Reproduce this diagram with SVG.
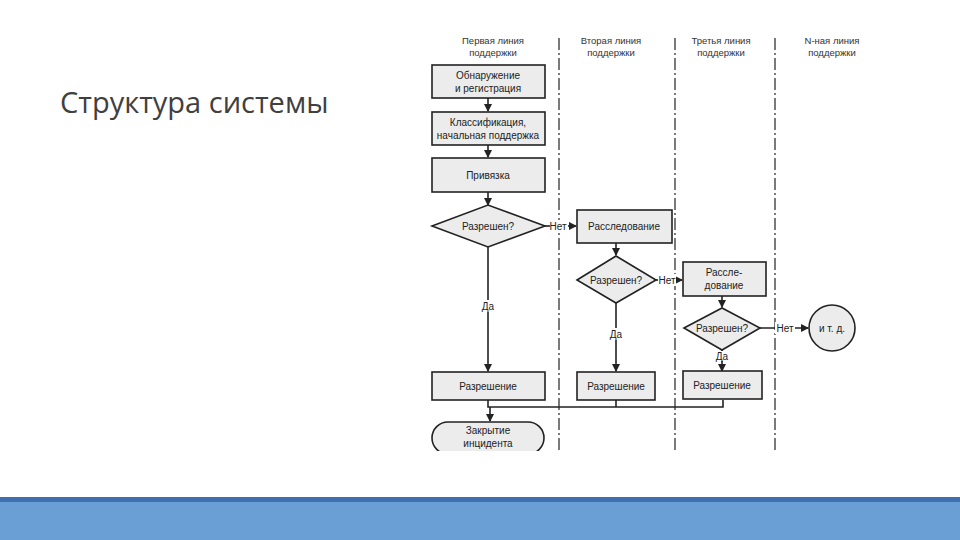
<svg xmlns="http://www.w3.org/2000/svg" width="960" height="540" viewBox="0 0 960 540">
<defs>
<marker id="ar" markerWidth="8" markerHeight="8" refX="7" refY="4" orient="auto" markerUnits="userSpaceOnUse"><path d="M0,0 L8,4 L0,8 Z" fill="#222"/></marker>
<style>
.b{fill:#ececec;stroke:#222;stroke-width:1.6}
.t{font-family:"Liberation Sans",Arial,sans-serif;font-size:10px;fill:#222;text-anchor:middle}
.h{font-family:"Liberation Sans",Arial,sans-serif;font-size:9.5px;fill:#333;text-anchor:middle}
.c{stroke:#222;stroke-width:1.6;fill:none}
.d{stroke:#333;stroke-width:1.3;stroke-dasharray:12,3,2,3}
</style>
</defs>
<rect width="960" height="540" fill="#fff"/>
<text x="60" y="113" font-family="Open Sans,Liberation Sans,sans-serif" font-size="29" fill="#404040">Структура системы</text>
<rect x="0" y="497" width="960" height="43" fill="#6a9fd6"/>
<rect x="0" y="497" width="960" height="5" fill="#3f6fae"/>
<g id="lanes">
<line class="d" x1="559" y1="38" x2="559" y2="450"/>
<line class="d" x1="675" y1="38" x2="675" y2="450"/>
<line class="d" x1="775" y1="38" x2="775" y2="450"/>
<text class="h" x="493" y="44">Первая линия</text><text class="h" x="493" y="56">поддержки</text>
<text class="h" x="611" y="44">Вторая линия</text><text class="h" x="611" y="56">поддержки</text>
<text class="h" x="721" y="44">Третья линия</text><text class="h" x="721" y="56">поддержки</text>
<text class="h" x="832" y="44">N-ная линия</text><text class="h" x="832" y="56">поддержки</text>
</g>
<g id="connectors">
<line class="c" x1="488" y1="98" x2="488" y2="111" marker-end="url(#ar)"/>
<line class="c" x1="488" y1="145" x2="488" y2="157" marker-end="url(#ar)"/>
<line class="c" x1="488" y1="192" x2="488" y2="205" marker-end="url(#ar)"/>
<line class="c" x1="545" y1="226" x2="576" y2="226" marker-end="url(#ar)"/>
<line class="c" x1="488" y1="247" x2="488" y2="371" marker-end="url(#ar)"/>
<line class="c" x1="616" y1="243" x2="616" y2="255" marker-end="url(#ar)"/>
<line class="c" x1="656" y1="280" x2="682" y2="280" marker-end="url(#ar)"/>
<line class="c" x1="616" y1="303" x2="616" y2="371" marker-end="url(#ar)"/>
<line class="c" x1="722" y1="296" x2="722" y2="307" marker-end="url(#ar)"/>
<line class="c" x1="760" y1="328" x2="808" y2="328" marker-end="url(#ar)"/>
<line class="c" x1="722" y1="350" x2="722" y2="371" marker-end="url(#ar)"/>
<polyline class="c" points="488,400 488,407 723,407 723,400"/>
<line class="c" x1="616" y1="400" x2="616" y2="407"/>
<line class="c" x1="490" y1="407" x2="490" y2="421" marker-end="url(#ar)"/>
<rect x="550" y="220" width="18" height="12" fill="#fff"/><text class="t" x="558" y="230">Нет</text>
<rect x="658" y="274" width="18" height="12" fill="#fff"/><text class="t" x="667" y="284">Нет</text>
<rect x="775" y="322" width="20" height="12" fill="#fff"/><text class="t" x="785" y="332">Нет</text>
<rect x="480" y="300" width="16" height="12" fill="#fff"/><text class="t" x="488" y="310">Да</text>
<rect x="608" y="328" width="16" height="12" fill="#fff"/><text class="t" x="616" y="338">Да</text>
<rect x="714" y="351" width="16" height="10" fill="#fff"/><text class="t" x="722" y="360">Да</text>
</g>
<g id="n1"><rect class="b" x="432" y="65" width="113" height="33"/><text class="t" x="488" y="79">Обнаружение</text><text class="t" x="488" y="92">и регистрация</text></g>
<g id="n2"><rect class="b" x="432" y="112" width="113" height="33"/><text class="t" x="488" y="126">Классификация,</text><text class="t" x="488" y="139">начальная поддержка</text></g>
<g id="n3"><rect class="b" x="432" y="158" width="113" height="34"/><text class="t" x="488" y="179">Привязка</text></g>
<g id="n4"><polygon class="b" points="432,226 488,205 545,226 488,247"/><text class="t" x="488" y="230">Разрешен?</text></g>
<g id="n5"><rect class="b" x="577" y="210" width="95" height="33"/><text class="t" x="624" y="230">Расследование</text></g>
<g id="n6"><polygon class="b" points="577,280 616,256 656,280 616,303"/><text class="t" x="616" y="284">Разрешен?</text></g>
<g id="n7"><rect class="b" x="683" y="262" width="83" height="34"/><text class="t" x="724" y="276">Рассле-</text><text class="t" x="724" y="289">дование</text></g>
<g id="n8"><polygon class="b" points="684,328 722,308 760,328 722,350"/><text class="t" x="722" y="332">Разрешен?</text></g>
<g id="n9"><circle class="b" cx="832" cy="328" r="23"/><text class="t" x="832" y="332">и т. д.</text></g>
<g id="n10"><rect class="b" x="432" y="372" width="113" height="28"/><text class="t" x="488" y="390">Разрешение</text></g>
<g id="n11"><rect class="b" x="577" y="372" width="78" height="28"/><text class="t" x="616" y="390">Разрешение</text></g>
<g id="n12"><rect class="b" x="683" y="371" width="79" height="28"/><text class="t" x="722" y="389">Разрешение</text></g>
<g id="n13"><rect class="b" x="432" y="422" width="112" height="32" rx="16"/><text class="t" x="488" y="434">Закрытие</text><text class="t" x="488" y="447">инцидента</text></g>
<rect x="420" y="451" width="150" height="10" fill="#fff"/>
</svg>
